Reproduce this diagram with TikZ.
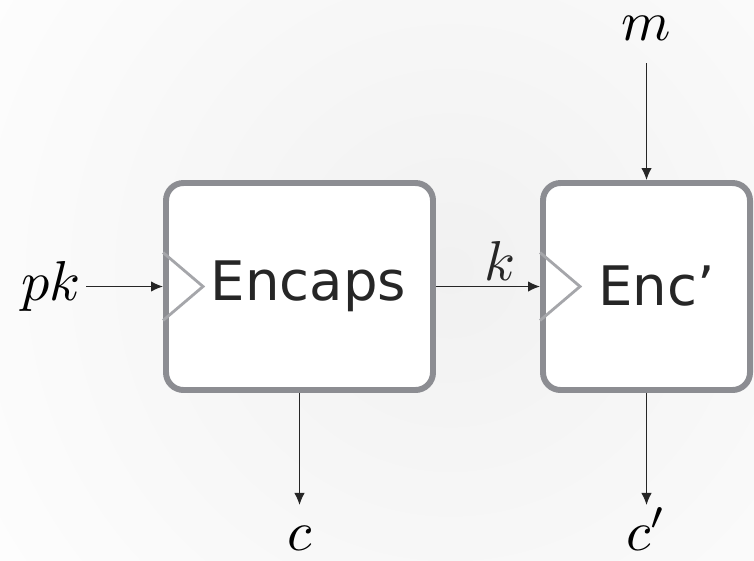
\documentclass[tikz,border=0pt]{standalone}
\usepackage{fontspec}
\newfontfamily\boxfont{DejaVu Sans}
\usetikzlibrary{arrows.meta, positioning}

\definecolor{boxgray}{RGB}{140,141,146}
\definecolor{keygray}{RGB}{165,166,170}
\newcommand{\mlab}[1]{\scalebox{3.2}{$#1$}}

\begin{document}
\begin{tikzpicture}[
  box/.style={draw=boxgray, line width=3.4pt, rounded corners=0.35cm, fill=white,
              minimum height=4.14cm, inner sep=0pt, text=black!85,
              font=\boxfont\fontsize{31}{36}\selectfont},
  keytri/.style={draw=keygray, line width=1.6pt, line join=miter},
  lbl/.style={inner sep=0.1cm},
  outlbl/.style={lbl, anchor=north, text height=0.8cm},
  arrow/.style={-{Latex[length=2.4mm, width=2.1mm]}, line width=0.75pt, black!85}
]
\useasboundingbox (0,0) rectangle (15.08,-11.2);

% soft glow behind the boxes
\begin{scope}
  \clip (0,0) rectangle (15.08,-11.2);
  \shade[inner color=gray!11, outer color=white] (9.0,-5.4) circle (12.5cm);
\end{scope}

\node[box, minimum width=5.34cm] (encaps) at (5.99,-5.73) {\hspace*{0.36cm}Encaps};
\node[box, minimum width=4.14cm] (enc) at (12.93,-5.73) {\hspace*{0.4cm}Enc’};

% key inputs
\foreach \b in {encaps, enc}
  \draw[keytri] ([yshift=0.68cm]\b.west) -- ([xshift=0.8cm]\b.west) -- ([yshift=-0.68cm]\b.west);

\node[lbl] (pk) at (1.02,-5.73) {\mlab{pk}};
\node[lbl] (m) at (12.93,-0.56) {\mlab{m}};
\node[outlbl, below=2.24cm of encaps] (c) {\mlab{c}};
\node[outlbl, below=2.24cm of enc] (cp) {\mlab{c'}};

\draw[arrow] (pk) -- (encaps);
\draw[arrow] (encaps) -- node[lbl, pos=0.62, above] {\mlab{k}} (enc);
\draw[arrow, shorten <=0.36cm] (m) -- (enc);
\draw[arrow] (encaps) -- (c);
\draw[arrow] (enc) -- (cp);
\end{tikzpicture}
\end{document}
